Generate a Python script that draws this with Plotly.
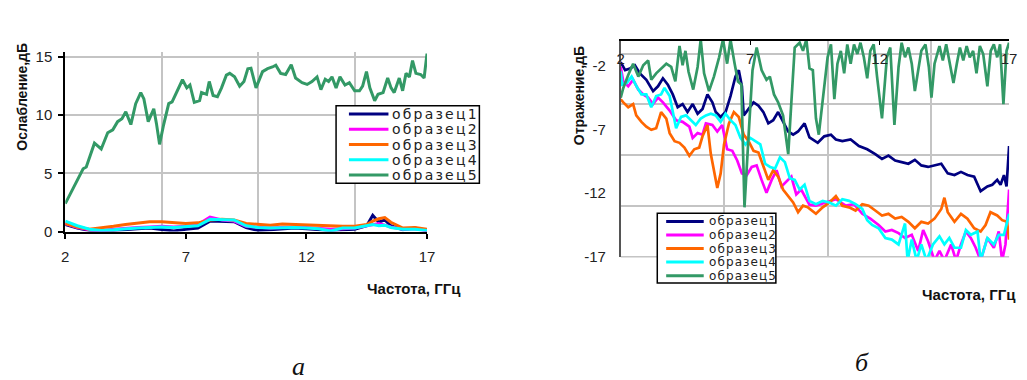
import plotly.graph_objects as go

# ---------------- data: attenuation (left panel) ----------------
att_freq_5 = [2.0, 2.46, 2.74, 2.87, 3.21, 3.49, 3.76, 3.97, 4.17, 4.35, 4.51, 4.72, 4.92, 5.13, 5.26,
              5.44, 5.67, 5.78, 5.91, 6.08, 6.29, 6.43, 6.63, 6.86, 7.04, 7.17, 7.35, 7.57, 7.65, 7.86,
              7.97, 8.13, 8.31, 8.48, 8.68, 8.82, 9.02, 9.23, 9.41, 9.57, 9.70, 9.91, 10.18, 10.39, 10.59,
              10.73, 10.93, 11.14, 11.37, 11.55, 11.82, 12.03, 12.23, 12.44, 12.60, 12.78, 12.92, 13.06,
              13.23, 13.39, 13.60, 13.78, 14.0, 14.2, 14.33, 14.49, 14.63, 14.83, 14.97, 15.18, 15.37,
              15.51, 15.64, 15.85, 15.99, 16.13, 16.27, 16.40, 16.54, 16.74, 16.88, 17.0]
att_5 = [2.4, 4.3, 5.4, 5.55, 7.6, 7.1, 8.5, 8.75, 9.45, 9.7, 10.3, 9.2, 11.0, 11.95, 11.4,
         9.45, 10.55, 9.3, 7.5, 9.2, 11.0, 11.15, 12.1, 13.05, 12.35, 12.6, 11.1, 11.25, 11.95, 11.8,
         12.9, 11.7, 11.6, 12.35, 13.45, 13.6, 13.3, 12.5, 12.9, 14.0, 14.05, 12.35, 13.75, 14.0, 14.15,
         14.3, 13.6, 13.5, 14.35, 13.2, 12.8, 12.65, 12.9, 13.3, 12.2, 13.1, 12.9, 13.3,
         12.35, 13.3, 12.6, 12.8, 12.1, 12.1, 12.5, 13.75, 12.35, 11.25, 11.8, 11.95, 13.2,
         12.35, 11.95, 13.2, 12.1, 13.6, 13.3, 14.7, 13.6, 13.5, 13.2, 15.3]

att_freq_lo = [2, 2.5, 3, 3.5, 4, 4.5, 5, 5.5, 6, 6.5, 7, 7.5, 8, 8.5, 9, 9.5, 10, 10.5, 11, 11.5,
               12, 12.5, 13, 13.5, 14, 14.5, 14.75, 15, 15.25, 15.5, 16, 16.5, 17]
att_1 = [0.6, 0.3, 0.1, 0.05, 0.1, 0.2, 0.25, 0.3, 0.2, 0.05, 0.2, 0.3, 0.9, 0.9, 0.85, 0.35, 0.1, 0.15, 0.25, 0.3,
         0.25, 0.2, 0.1, 0.15, 0.2, 0.5, 1.4, 0.8, 1.0, 0.5, 0.15, 0.3, 0.1]
att_2 = [0.7, 0.35, 0.15, 0.1, 0.2, 0.3, 0.35, 0.4, 0.45, 0.4, 0.45, 0.6, 1.25, 1.0, 0.9, 0.45, 0.35, 0.3, 0.35, 0.4,
         0.35, 0.3, 0.2, 0.25, 0.3, 0.5, 0.6, 0.7, 0.55, 0.4, 0.2, 0.25, 0.05]
att_3 = [0.7, 0.4, 0.2, 0.3, 0.45, 0.6, 0.7, 0.85, 0.85, 0.75, 0.7, 0.75, 1.0, 1.05, 1.0, 0.7, 0.6, 0.55, 0.65, 0.6,
         0.6, 0.55, 0.5, 0.45, 0.45, 0.6, 0.9, 1.1, 1.2, 0.8, 0.3, 0.35, 0.2]
att_4 = [0.9, 0.5, 0.2, 0.1, 0.15, 0.25, 0.3, 0.35, 0.4, 0.35, 0.4, 0.5, 1.05, 1.05, 1.0, 0.5, 0.35, 0.3, 0.35, 0.35,
         0.3, 0.25, 0.05, 0.3, 0.3, 0.5, 0.6, 0.5, 0.55, 0.35, 0.2, 0.2, 0.1]

# ---------------- data: reflection (right panel) ----------------
ref_freq_1 = [2.0, 2.17, 2.36, 2.55, 2.74, 2.99, 3.25, 3.44, 3.63, 3.82, 4.01, 4.2, 4.39, 4.58, 4.78,
              4.97, 5.16, 5.35, 5.54, 5.67, 5.86, 6.05, 6.24, 6.43, 6.56, 6.68, 6.75, 6.94, 7.13, 7.32,
              7.51, 7.7, 7.89, 8.08, 8.27, 8.47, 8.66, 8.85, 9.1, 9.29, 9.61, 9.86, 10.12, 10.31, 10.56,
              10.88, 11.2, 11.52, 11.83, 12.09, 12.34, 12.6, 12.85, 13.11, 13.36, 13.61, 13.87, 14.12,
              14.38, 14.63, 14.89, 15.14, 15.39, 15.65, 15.9, 16.16, 16.35, 16.54, 16.67, 16.8, 16.9, 17.0]
ref_1 = [-1.68, -2.31, -2.18, -1.93, -2.57, -3.07, -3.96, -3.58, -2.95, -3.45, -4.22, -5.23, -4.98, -5.61, -4.98,
         -5.74, -5.36, -4.22, -4.85, -5.61, -6.0, -5.61, -4.35, -2.82, -2.31, -3.58, -5.87, -5.36, -4.85, -5.11,
         -5.61, -6.5, -6.25, -5.61, -6.38, -7.14, -7.39, -7.14, -6.5, -7.6, -8.03, -7.52, -7.39, -7.77, -7.9,
         -7.77, -8.28, -8.54, -8.92, -9.3, -9.04, -9.43, -9.55, -9.68, -9.37, -9.81, -9.93, -9.81,
         -9.68, -10.44, -10.57, -10.32, -10.57, -10.69, -11.84, -11.46, -11.33, -10.95, -11.33, -10.57, -11.46, -8.28]

ref_freq_2 = [2.0, 2.1, 2.29, 2.48, 2.68, 2.87, 3.06, 3.25, 3.44, 3.63, 3.89, 4.14, 4.39, 4.65, 4.78,
              4.97, 5.16, 5.29, 5.54, 5.73, 5.92, 6.11, 6.31, 6.5, 6.68, 6.87, 7.06, 7.25, 7.44, 7.63,
              7.83, 8.02, 8.21, 8.4, 8.59, 8.78, 8.97, 9.17, 9.29, 9.54, 9.93, 10.31, 10.69, 11.01, 11.33,
              11.64, 11.96, 12.22, 12.47, 12.73, 12.98, 13.24, 13.49, 13.68, 13.87, 14.12, 14.31, 14.5,
              14.76, 14.95, 15.14, 15.33, 15.52, 15.71, 15.9, 16.16, 16.41, 16.6, 16.73, 16.86, 17.0]
ref_2 = [-2.06, -3.2, -3.58, -3.07, -3.84, -4.22, -4.47, -4.98, -4.47, -4.85, -5.49, -6.25, -6.38, -6.76, -7.65,
         -7.27, -7.39, -6.5, -6.63, -7.14, -6.63, -8.54, -8.66, -9.42, -10.44, -10.57, -9.93, -9.81, -10.95, -11.97,
         -10.95, -10.19, -11.46, -11.08, -10.69, -12.09, -11.71, -12.47, -12.9, -12.98, -12.73, -12.47, -12.98, -12.86, -13.62,
         -14.0, -14.5, -15.01, -14.89, -15.14, -15.52, -15.27, -16.54, -14.89, -15.78, -17.3, -16.54, -17.3,
         -16.03, -17.3, -16.03, -15.01, -15.52, -16.29, -17.3, -15.52, -16.29, -15.01, -17.3, -16.03, -11.71]

ref_freq_3 = [2.0, 2.1, 2.29, 2.48, 2.6, 2.8, 2.99, 3.18, 3.37, 3.56, 3.76, 3.89, 4.08, 4.27, 4.46,
              4.65, 4.84, 5.03, 5.16, 5.35, 5.48, 5.61, 5.73, 5.86, 5.99, 6.18, 6.37, 6.56, 6.75, 6.94,
              7.13, 7.32, 7.51, 7.7, 7.89, 8.08, 8.27, 8.47, 8.66, 8.85, 9.04, 9.23, 9.54, 9.8, 10.06,
              10.31, 10.56, 10.82, 11.07, 11.33, 11.58, 11.83, 12.09, 12.34, 12.6, 12.85, 13.11, 13.36,
              13.61, 13.87, 14.12, 14.38, 14.5, 14.63, 14.89, 15.14, 15.39, 15.65, 15.9, 16.09, 16.28,
              16.54, 16.73, 16.92, 17.0]
ref_3 = [-4.6, -4.85, -5.23, -4.98, -5.87, -6.38, -6.76, -7.01, -6.88, -5.61, -6.12, -7.27, -7.9, -8.03, -8.41,
         -9.05, -8.54, -8.41, -7.52, -6.63, -8.92, -10.44, -11.59, -10.44, -8.16, -6.5, -5.61, -6.0, -7.39, -7.9,
         -8.66, -8.79, -9.93, -10.95, -10.19, -10.69, -11.71, -12.22, -12.73, -13.49, -12.98, -13.11, -13.62, -13.11, -12.73,
         -12.22, -12.98, -13.11, -13.36, -12.86, -12.98, -13.36, -13.75, -13.62, -14.0, -13.87, -14.25, -14.76,
         -14.25, -14.38, -14.0, -13.24, -12.35, -13.49, -14.25, -13.62, -14.0, -14.76, -15.01, -14.5, -13.49,
         -13.75, -14.12, -14.25, -15.65]

ref_freq_4 = [2.0, 2.06, 2.23, 2.42, 2.61, 2.8, 2.99, 3.18, 3.37, 3.56, 3.69, 3.89, 4.14, 4.33, 4.52,
              4.71, 4.9, 5.09, 5.29, 5.48, 5.67, 5.86, 6.05, 6.24, 6.43, 6.63, 6.82, 7.01, 7.2, 7.39,
              7.58, 7.77, 7.96, 8.15, 8.34, 8.53, 8.72, 8.91, 9.1, 9.29, 9.54, 9.8, 10.06, 10.31, 10.56,
              10.82, 11.07, 11.33, 11.52, 11.71, 11.96, 12.22, 12.47, 12.73, 12.98, 13.08, 13.24, 13.43,
              13.61, 13.81, 14.06, 14.31, 14.5, 14.69, 14.89, 15.14, 15.33, 15.52, 15.78, 15.9, 16.16,
              16.41, 16.6, 16.8, 17.0]
ref_4 = [-2.4, -3.45, -3.33, -2.82, -3.58, -4.22, -4.22, -5.23, -4.35, -4.22, -3.71, -4.35, -6.88, -5.99, -5.87,
         -6.25, -6.63, -6.12, -5.87, -5.74, -5.87, -6.38, -5.74, -6.25, -6.63, -7.65, -8.16, -7.65, -7.9, -8.16,
         -9.68, -9.93, -10.06, -9.17, -9.55, -10.82, -10.95, -11.71, -11.33, -12.6, -12.86, -12.6, -12.73, -12.98, -12.47,
         -12.6, -12.86, -13.24, -14.12, -14.5, -14.76, -15.52, -15.65, -16.03, -14.38, -17.3, -15.65, -17.3,
         -16.03, -17.3, -16.03, -15.39, -16.03, -15.52, -16.29, -16.29, -14.89, -15.27, -15.01, -17.3, -15.52,
         -16.03, -15.27, -15.27, -13.62]

ref_freq_5 = [2.0, 2.1, 2.29, 2.48, 2.68, 2.87, 3.06, 3.18, 3.37, 3.56, 3.76, 3.95, 4.11, 4.27, 4.39,
              4.5, 4.62, 4.8, 4.97, 5.09, 5.22, 5.41, 5.6, 5.8, 5.95, 6.11, 6.24, 6.4, 6.53, 6.66,
              6.78, 6.94, 7.09, 7.25, 7.44, 7.63, 7.76, 7.92, 8.08, 8.27, 8.47, 8.59, 8.72, 8.91, 9.04,
              9.17, 9.29, 9.42, 9.54, 9.65, 9.8, 9.99, 10.12, 10.25, 10.37, 10.5, 10.63, 10.75, 10.88,
              11.01, 11.14, 11.26, 11.39, 11.52, 11.64, 11.77, 11.9, 12.09, 12.28, 12.41, 12.57, 12.73,
              12.85, 12.98, 13.11, 13.24, 13.36, 13.49, 13.61, 13.77, 13.9, 14.0, 14.12, 14.31, 14.44,
              14.57, 14.69, 14.85, 14.98, 15.1, 15.23, 15.36, 15.48, 15.61, 15.74, 15.87, 16.0, 16.16,
              16.29, 16.41, 16.54, 16.65, 16.78, 16.9, 17.0]
ref_5 = [-4.47, -3.71, -2.69, -1.8, -2.82, -1.93, -1.55, -3.07, -2.56, -2.18, -1.8, -2.06, -3.2, -0.41, -1.93,
         -0.79, -2.44, -3.84, -2.06, 0.1, -2.56, -3.96, -2.82, -1.3, 0.1, -1.8, 0.1, -1.8, -3.2, -3.45,
         -13.11, -7.39, -2.31, -0.53, -2.31, -3.07, -2.82, -4.22, -4.85, -5.87, -8.92, -4.85, -0.53, -0.15, -0.79,
         0.1, -2.18, -2.31, -6.1, -7.39, -4.85, -1.3, -0.28, -4.6, -1.8, -0.79, -2.56, -0.28, -1.8,
         -0.28, -1.04, -0.15, -1.3, -2.95, -0.79, -0.28, -2.82, -6.1, -1.3, -0.53, -6.63, -2.06,
         -0.15, -1.3, -0.53, -1.8, -3.96, -2.31, -0.79, -0.28, -2.06, -4.47, -1.8, -0.41, -1.55,
         -0.28, -1.55, -3.33, -1.8, -0.53, -1.55, -0.41, -1.3, -0.79, -2.56, -0.41, -1.04, -3.58,
         -0.79, -0.28, -1.3, -0.28, -4.98, -0.79, -0.15]

names = ["образец1", "образец2", "образец3", "образец4", "образец5"]
colors = ["#000080", "#FF00FF", "#FF6600", "#00FFFF", "#339966"]

x_ticks = [2, 7, 12, 17]
x_grid = [6, 10, 14]
att_ticks = [0, 5, 10, 15]
ref_ticks = [-2, -7, -12, -17]
ref_grid = [-13, -9, -5, -1]

fig = go.Figure()

att_x = [att_freq_lo, att_freq_lo, att_freq_lo, att_freq_lo, att_freq_5]
att_y = [att_1, att_2, att_3, att_4, att_5]
for i in range(5):
    fig.add_trace(go.Scatter(x=att_x[i], y=att_y[i], mode="lines", name=names[i],
                             line=dict(color=colors[i], width=3), xaxis="x", yaxis="y",
                             showlegend=False))

ref_x = [ref_freq_1, ref_freq_2, ref_freq_3, ref_freq_4, ref_freq_5]
ref_y = [ref_1, ref_2, ref_3, ref_4, ref_5]
for i in range(5):
    fig.add_trace(go.Scatter(x=ref_x[i], y=ref_y[i], mode="lines", name=names[i],
                             line=dict(color=colors[i], width=2.7), xaxis="x2", yaxis="y2",
                             showlegend=False))

# helper (empty) trace so the label-only top axis of the right panel is rendered
fig.add_trace(go.Scatter(x=[], y=[], xaxis="x3", yaxis="y2", showlegend=False, hoverinfo="skip"))

W, H = 1027, 380
grid_col = "#c4c4c4"
tick_font = dict(family="Liberation Sans, Arial, sans-serif", size=15, color="#222222")

fig.update_layout(
    width=W, height=H, margin=dict(l=0, r=0, t=0, b=0),
    paper_bgcolor="white", plot_bgcolor="white",
    font=tick_font, showlegend=False,
    xaxis=dict(domain=[62 / W, 428 / W], anchor="y", range=[2, 17], tickmode="array", tickvals=x_ticks,
               showgrid=False, zeroline=False, showline=True, linecolor="black", linewidth=2,
               ticks="outside", ticklen=5, tickwidth=1.5, tickcolor="black", ticklabelstandoff=5,
               tickfont=tick_font,
               minor=dict(tickmode="array", tickvals=x_grid, showgrid=True, gridcolor=grid_col,
                          gridwidth=1.5, ticks="")),
    yaxis=dict(domain=[(H - 235) / H, (H - 50) / H], anchor="x", range=[0, 15.4], tickmode="array",
               tickvals=att_ticks, showgrid=True, gridcolor=grid_col, gridwidth=1.5, zeroline=False,
               showline=True, linecolor="black", linewidth=2, ticks="outside", ticklen=5, tickwidth=1.5,
               tickcolor="black", ticklabelstandoff=3, tickfont=tick_font),
    xaxis2=dict(domain=[624 / W, 1017 / W], anchor="y2", side="top", range=[2, 17], tickmode="array",
                tickvals=x_ticks, showticklabels=False, showgrid=False, zeroline=False,
                showline=True, linecolor="black", linewidth=2, ticks="inside", ticklen=4, tickwidth=1,
                tickcolor="black",
                minor=dict(tickmode="array", tickvals=x_grid, showgrid=True, gridcolor=grid_col,
                           gridwidth=1.5, ticks="")),
    xaxis3=dict(overlaying="x2", anchor="free", position=1 - 45 / H, side="bottom", range=[2, 17],
                tickmode="array", tickvals=x_ticks, showgrid=False, zeroline=False, showline=False,
                ticks="", ticklabelstandoff=0, tickfont=tick_font),
    yaxis2=dict(domain=[(H - 261) / H, (H - 38) / H], anchor="x2", range=[-17, 0], tickmode="array",
                tickvals=ref_ticks, ticktext=[str(v) for v in ref_ticks], showgrid=False, zeroline=False,
                showline=True, linecolor="#555555", linewidth=1.5, ticks="", ticklabelstandoff=10,
                tickfont=tick_font,
                minor=dict(tickmode="array", tickvals=ref_grid, showgrid=True, gridcolor=grid_col,
                           gridwidth=1.5, ticks="")),
)

# bottom border of the right panel (grey frame line at the axis minimum)
fig.add_shape(type="line", xref="x2 domain", yref="y2 domain", x0=0, x1=1, y0=0, y1=0,
              line=dict(color=grid_col, width=1.5), layer="below")


# ---- legends (boxed, compact rows as in the reference) ----
def add_legend(box, row0, row_step, line_x, text_x, size, spacing):
    x0, y0, x1, y1 = box
    fig.add_shape(type="rect", xref="paper", yref="paper", x0=x0 / W, x1=x1 / W,
                  y0=1 - y1 / H, y1=1 - y0 / H, line=dict(color="black", width=1.5),
                  fillcolor="white", layer="above")
    for i in range(5):
        yy = row0 + i * row_step
        fig.add_shape(type="line", xref="paper", yref="paper", x0=line_x[0] / W, x1=line_x[1] / W,
                      y0=1 - yy / H, y1=1 - yy / H, line=dict(color=colors[i], width=3), layer="above")
        fig.add_annotation(xref="paper", yref="paper", x=text_x / W, y=1 - yy / H, xanchor="left",
                           yanchor="middle", showarrow=False,
                           text=f'<span style="letter-spacing:{spacing}px">{names[i]}</span>',
                           font=dict(family="DejaVu Sans, sans-serif", size=size, color="#222222"))


add_legend((336, 105, 481, 185), 113.5, 15.8, (349, 389), 391, 14, 2.2)
add_legend((661, 216, 781, 288), 224.5, 14.0, (670, 708), 711, 12, 1.1)

title_font = dict(family="Liberation Sans, Arial, sans-serif", size=14, color="#111111", weight="bold")
xtitle_font = dict(family="Liberation Sans, Arial, sans-serif", size=15, color="#111111", weight="bold")
cap_font = dict(family="Liberation Serif, Times New Roman, serif", size=26, color="#111111", style="italic")
annos = [
    dict(text="Ослабление,дБ", x=18 / W, y=1 - 96 / H, textangle=-90, font=title_font),
    dict(text="Отражение,дБ", x=582 / W, y=1 - 95 / H, textangle=-90, font=title_font),
    dict(text="Частота, ГГц", x=415 / W, y=1 - 294 / H, font=xtitle_font),
    dict(text="Частота, ГГц", x=976 / W, y=1 - 300 / H, font=xtitle_font),
    dict(text="а", x=298 / W, y=1 - 374 / H, font=cap_font),
    dict(text="б", x=868 / W, y=1 - 370 / H, font=cap_font),
]
for a in annos:
    fig.add_annotation(xref="paper", yref="paper", showarrow=False, xanchor="center", yanchor="middle", **a)

fig.write_html("out.html")
